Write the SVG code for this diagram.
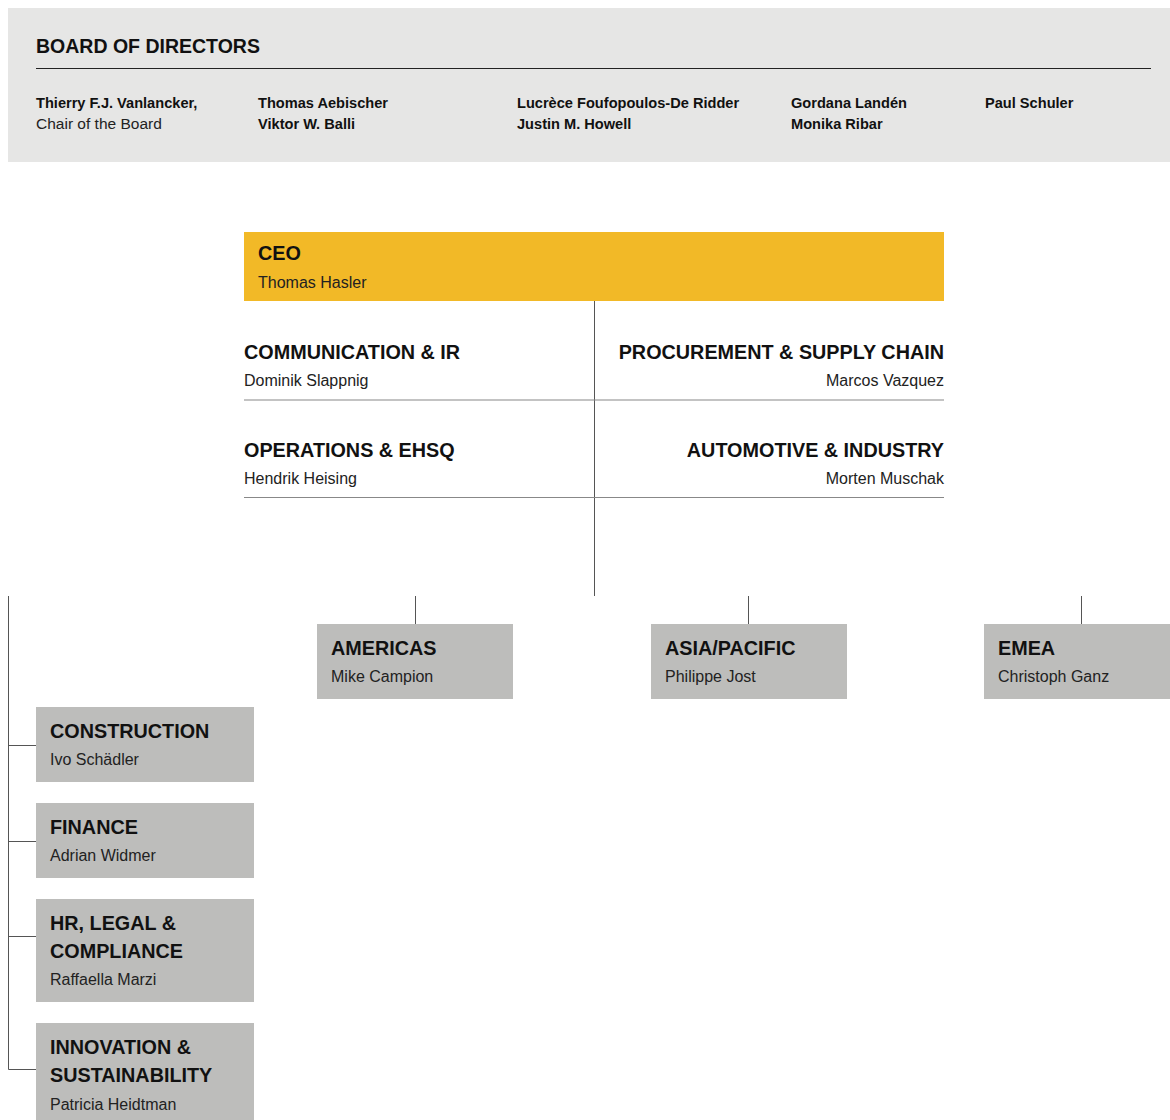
<svg xmlns="http://www.w3.org/2000/svg" width="1170" height="1120" viewBox="0 0 1170 1120">
<style>
text{font-family:"Liberation Sans","DejaVu Sans",sans-serif;fill:#111}
.bt{font-size:19.5px;font-weight:bold}
.bn{font-size:14.6px;font-weight:bold}
.br{font-size:15.5px;fill:#222}
.t{font-size:19.8px;font-weight:bold}
.n{font-size:16px;fill:#222}
.r{text-anchor:end}
.box{fill:#bdbdbb}
.ln{stroke:#555;stroke-width:1;fill:none}
.sep{stroke:#888;stroke-width:1.2;fill:none}
</style>
<rect width="1170" height="1120" fill="#fff"/>
<g id="board">
<rect x="8" y="8" width="1162" height="154" fill="#e6e6e5"/>
<text class="bt" x="36" y="53">BOARD OF DIRECTORS</text>
<line x1="36" y1="68.5" x2="1151" y2="68.5" stroke="#222" stroke-width="1"/>
<text class="bn" x="36" y="108">Thierry F.J. Vanlancker,</text>
<text class="br" x="36" y="129">Chair of the Board</text>
<text class="bn" x="258" y="108">Thomas Aebischer</text>
<text class="bn" x="258" y="129">Viktor W. Balli</text>
<text class="bn" x="517" y="108">Lucrèce Foufopoulos-De Ridder</text>
<text class="bn" x="517" y="129">Justin M. Howell</text>
<text class="bn" x="791" y="108">Gordana Landén</text>
<text class="bn" x="791" y="129">Monika Ribar</text>
<text class="bn" x="985" y="108">Paul Schuler</text>
</g>
<g id="connectors">
<line class="ln" x1="594.5" y1="301" x2="594.5" y2="596"/>
<line class="ln" x1="415.5" y1="596" x2="415.5" y2="624"/>
<line class="ln" x1="748.5" y1="596" x2="748.5" y2="624"/>
<line class="ln" x1="1081.5" y1="596" x2="1081.5" y2="624" stroke="#999"/>
<polyline class="ln" points="8.5,596 8.5,1069.5 36,1069.5"/>
<line class="ln" x1="8.5" y1="745.5" x2="36" y2="745.5"/>
<line class="ln" x1="8.5" y1="841.5" x2="36" y2="841.5"/>
<line class="ln" x1="8.5" y1="936.5" x2="36" y2="936.5"/>
</g>
<g id="ceo">
<rect x="244" y="232" width="700" height="69" fill="#f2b927"/>
<text class="t" x="258" y="260">CEO</text>
<text class="n" x="258" y="288">Thomas Hasler</text>
</g>
<g id="communication">
<text class="t" x="244" y="359">COMMUNICATION &amp; IR</text>
<text class="n" x="244" y="386">Dominik Slappnig</text>
<line class="sep" x1="244" y1="400" x2="594" y2="400"/>
</g>
<g id="procurement">
<text class="t r" x="944" y="359">PROCUREMENT &amp; SUPPLY CHAIN</text>
<text class="n r" x="944" y="386">Marcos Vazquez</text>
<line class="sep" x1="594" y1="400" x2="944" y2="400"/>
</g>
<g id="operations">
<text class="t" x="244" y="457">OPERATIONS &amp; EHSQ</text>
<text class="n" x="244" y="484">Hendrik Heising</text>
<line class="sep" x1="244" y1="497.5" x2="594" y2="497.5"/>
</g>
<g id="automotive">
<text class="t r" x="944" y="457">AUTOMOTIVE &amp; INDUSTRY</text>
<text class="n r" x="944" y="484">Morten Muschak</text>
<line class="sep" x1="594" y1="497.5" x2="944" y2="497.5"/>
</g>
<g id="americas">
<rect class="box" x="317" y="624" width="196" height="75"/>
<text class="t" x="331" y="655">AMERICAS</text>
<text class="n" x="331" y="682">Mike Campion</text>
</g>
<g id="asia">
<rect class="box" x="651" y="624" width="196" height="75"/>
<text class="t" x="665" y="655">ASIA/PACIFIC</text>
<text class="n" x="665" y="682">Philippe Jost</text>
</g>
<g id="emea">
<rect class="box" x="984" y="624" width="186" height="75"/>
<text class="t" x="998" y="655">EMEA</text>
<text class="n" x="998" y="682">Christoph Ganz</text>
</g>
<g id="construction">
<rect class="box" x="36" y="707" width="218" height="75"/>
<text class="t" x="50" y="738">CONSTRUCTION</text>
<text class="n" x="50" y="765">Ivo Schädler</text>
</g>
<g id="finance">
<rect class="box" x="36" y="803" width="218" height="75"/>
<text class="t" x="50" y="834">FINANCE</text>
<text class="n" x="50" y="861">Adrian Widmer</text>
</g>
<g id="hr">
<rect class="box" x="36" y="899" width="218" height="103"/>
<text class="t" x="50" y="930">HR, LEGAL &amp;</text>
<text class="t" x="50" y="958">COMPLIANCE</text>
<text class="n" x="50" y="985">Raffaella Marzi</text>
</g>
<g id="innovation">
<rect class="box" x="36" y="1023" width="218" height="97"/>
<text class="t" x="50" y="1054">INNOVATION &amp;</text>
<text class="t" x="50" y="1082">SUSTAINABILITY</text>
<text class="n" x="50" y="1110">Patricia Heidtman</text>
</g>
</svg>
